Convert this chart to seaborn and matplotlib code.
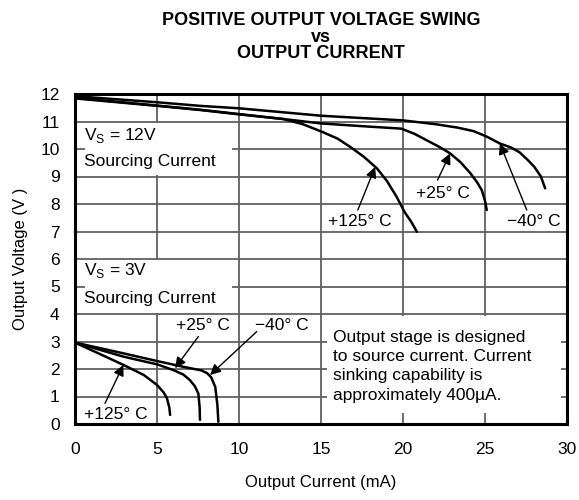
import pandas as pd
import matplotlib
matplotlib.use("Agg")
import matplotlib.pyplot as plt
from matplotlib.patches import Rectangle
import seaborn as sns

# Vs = 12V curves (current in mA, voltage in V)
i12_125 = [0, 5, 7.6, 10, 12.7, 13.9, 15.04, 16.0, 16.77, 17.6, 18.4, 19.0, 19.6, 20.1, 20.5, 20.84]
v12_125 = [11.84, 11.57, 11.42, 11.26, 11.09, 10.9, 10.63, 10.38, 10.08, 9.72, 9.3, 8.85, 8.27, 7.7, 7.35, 6.99]
i12_25 = [0, 5, 7.6, 10, 12.7, 15, 17.5, 19.9, 20.7, 21.4, 22.2, 22.87, 23.5, 24.1, 24.5, 24.8, 25.0, 25.1]
v12_25 = [11.86, 11.58, 11.43, 11.27, 11.09, 10.93, 10.83, 10.74, 10.55, 10.33, 10.08, 9.84, 9.52, 9.12, 8.8, 8.5, 8.1, 7.78]
i12_m40 = [0, 5, 7.6, 10, 15, 20, 22, 23.3, 24.3, 25.1, 25.9, 26.6, 27.1, 27.6, 28.0, 28.4, 28.66]
v12_m40 = [11.92, 11.7, 11.57, 11.48, 11.21, 11.04, 10.9, 10.78, 10.65, 10.45, 10.2, 10.05, 9.88, 9.6, 9.35, 9.0, 8.57]

# Vs = 3V curves
i3_125 = [0, 1.5, 2.95, 4.2, 5.0, 5.4, 5.6, 5.75, 5.8]
v3_125 = [2.96, 2.55, 2.15, 1.78, 1.42, 1.15, 0.95, 0.6, 0.33]
i3_25 = [0, 2.95, 5.0, 6.0, 6.6, 7.0, 7.3, 7.52, 7.6, 7.62]
v3_25 = [2.96, 2.45, 2.17, 1.96, 1.8, 1.6, 1.38, 1.11, 0.6, 0.15]
i3_m40 = [0, 2.95, 5.0, 6.6, 7.7, 8.05, 8.3, 8.55, 8.68, 8.74]
v3_m40 = [2.96, 2.57, 2.29, 2.08, 1.95, 1.85, 1.7, 1.35, 0.7, 0.08]

x_ticks = [0, 5, 10, 15, 20, 25, 30]
y_ticks = list(range(0, 13))

curves = {
    "12V +125C": (i12_125, v12_125),
    "12V +25C": (i12_25, v12_25),
    "12V -40C": (i12_m40, v12_m40),
    "3V +125C": (i3_125, v3_125),
    "3V +25C": (i3_25, v3_25),
    "3V -40C": (i3_m40, v3_m40),
}
rows = []
for name, (xs, ys) in curves.items():
    for x, y in zip(xs, ys):
        rows.append({"curve": name, "current": x, "voltage": y})
df = pd.DataFrame(rows)

sns.set_style("whitegrid")
plt.rcParams['font.family'] = ['Liberation Sans', 'DejaVu Sans']
plt.rcParams['mathtext.fontset'] = 'custom'
plt.rcParams['mathtext.rm'] = 'Liberation Sans'
plt.rcParams['text.color'] = 'black'
plt.rcParams['axes.labelcolor'] = 'black'

fig = plt.figure(figsize=(5.79, 5.0), dpi=100)
ax = fig.add_axes([0.1295, 0.152, 0.850, 0.660])

sns.lineplot(data=df, x="current", y="voltage", units="curve", estimator=None,
             sort=False, color="black", lw=1.8, ax=ax)

ax.set_xlim(0, 30)
ax.set_ylim(0, 12)
ax.set_xticks(x_ticks)
ax.set_yticks(y_ticks)
ax.grid(True, color="#606060", lw=1.3)
ax.set_axisbelow(True)
for sp in ax.spines.values():
    sp.set_color("black")
    sp.set_linewidth(2.2)
ax.tick_params(length=0, labelsize=12.5, colors="black")
ax.tick_params(axis="x", pad=13)
ax.tick_params(axis="y", pad=11)
ax.set_xlabel("Output Current (mA)", fontsize=12, labelpad=13)
ax.set_ylabel("Output Voltage (V )", fontsize=12, labelpad=9)
ax.set_title("POSITIVE OUTPUT VOLTAGE SWING\nvs\nOUTPUT CURRENT",
             fontsize=13, fontweight="bold", linespacing=0.95, pad=26, color="black")

# white areas behind the notes
for (x0, y0, w, h) in [(0.6, 9.05, 9.0, 1.9), (0.6, 4.05, 9.0, 1.9), (15.35, 0.39, 14.3, 3.52)]:
    ax.add_patch(Rectangle((x0, y0), w, h, facecolor="white", edgecolor="none", zorder=1))

fs = 12.5
ax.text(0.55, 10.5, "V$_\\mathregular{S}$ = 12V", fontsize=fs, va="center", zorder=3)
ax.text(0.55, 9.55, "Sourcing Current", fontsize=fs, va="center", zorder=3)
ax.text(0.55, 5.6, "V$_\\mathregular{S}$ = 3V", fontsize=fs, va="center", zorder=3)
ax.text(0.55, 4.55, "Sourcing Current", fontsize=fs, va="center", zorder=3)
ax.text(15.7, 2.1, "Output stage is designed\nto source current. Current\n"
        "sinking capability is\napproximately 400\u00b5A.",
        fontsize=fs, va="center", linespacing=1.35, zorder=3)

arrows = [
    ("+125\u00b0 C", (17.38, 7.36), (17.24, 7.78), (18.3, 9.35)),
    ("+25\u00b0 C", (22.4, 8.39), (22.1, 8.87), (22.87, 9.84)),
    ("\u221240\u00b0 C", (27.95, 7.36), (27.54, 7.78), (25.9, 10.2)),
    ("+125\u00b0 C", (2.49, 0.33), (1.83, 0.75), (2.95, 2.15)),
    ("+25\u00b0 C", (7.77, 3.57), (7.52, 3.18), (6.1, 2.03)),
    ("\u221240\u00b0 C", (12.6, 3.57), (11.08, 3.36), (8.23, 1.78)),
]
for label, txt_pos, tail, head in arrows:
    ax.text(txt_pos[0], txt_pos[1], label, fontsize=fs, ha="center", va="center", zorder=3)
    ax.annotate("", xy=head, xytext=tail,
                arrowprops=dict(arrowstyle="-|>", color="black", lw=1.0,
                                mutation_scale=16, shrinkA=0, shrinkB=0), zorder=3)

fig.savefig("out.png", dpi=100)
